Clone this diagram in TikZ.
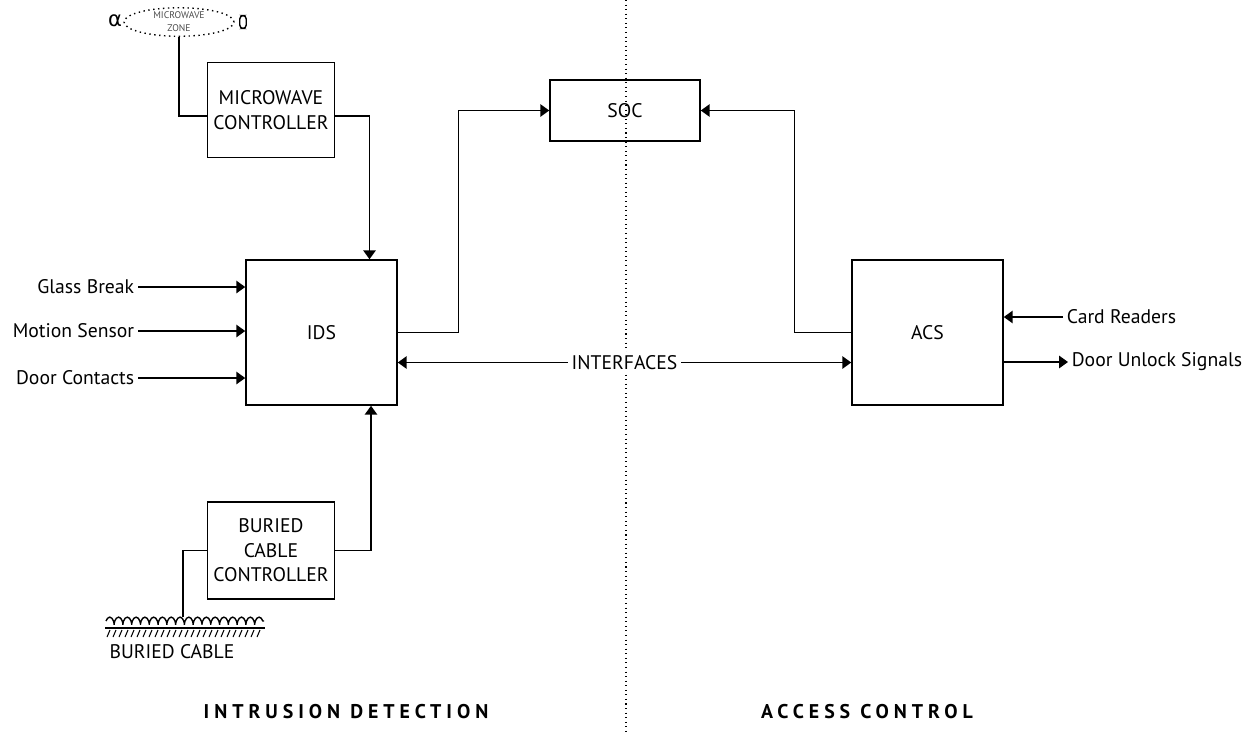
\documentclass[tikz,border=0pt]{standalone}
\usepackage{fontspec}
\setmainfont{PT Sans}
\newfontfamily\headfont[LetterSpace=25]{PT Sans}
\newfontfamily\symfont{DejaVu Sans}
\usetikzlibrary{arrows.meta,calc,decorations.pathmorphing,shapes.geometric}

\begin{document}
\begin{tikzpicture}[x=0.02cm,y=-0.02cm,
    block/.style={draw,line width=0.9pt,align=center,font=\fontsize{11.2}{14}\selectfont},
    lbl/.style={font=\fontsize{11.2}{13}\selectfont,inner sep=2pt},
    wire/.style={line width=0.8pt},
    sig/.style={wire,-{Triangle[length=5pt,width=7pt]}},
    title/.style={font=\headfont\bfseries\fontsize{11.3}{13}\selectfont}]
        \useasboundingbox (0,0) rectangle (1252,735);
        % Divider
        \draw[dotted,line width=0.6pt] (626,0) -- (626,735);

        % Blocks
        \node[block,minimum width=2.48cm,minimum height=1.9cm] (mwc) at (271,110) {MICROWAVE\\CONTROLLER};
        \node[block,minimum width=3.02cm,minimum height=2.9cm] (ids) at (321.5,332.5) {IDS};
        \node[block,minimum width=3cm,minimum height=1.22cm] (soc) at (625,110.5) {SOC};
        \node[block,minimum width=3.02cm,minimum height=2.9cm] (acs) at (927.5,332.5) {ACS};
        \node[block,minimum width=2.48cm,minimum height=1.94cm] (bcc) at (271,550.5) {BURIED\\CABLE\\CONTROLLER};

        % Microwave zone
        \node[draw,dotted,line width=0.8pt,ellipse,inner sep=0pt,minimum width=2.2cm,minimum height=0.48cm,
              align=center,text=black!70,font=\fontsize{5.5}{7.5}\selectfont] (zone) at (179,22) {MICROWAVE\\ZONE};
        \node[font=\symfont\fontsize{12}{12}\selectfont,inner sep=0pt] (tx) at (115,21) {α};
        \node[draw,line width=0.8pt,rounded corners=2pt,inner sep=0pt,minimum width=0.13cm,minimum height=0.26cm] (rx) at (243,22) {};
        \draw[wire] (zone.south) |- ($(mwc.west)+(0,6)$);
        \draw[sig] ($(mwc.east)+(0,6)$) -| ($(ids.north)+(48,0)$);

        % Sensor inputs
        \node[lbl,anchor=east] (gb) at (138,287) {Glass Break};
        \node[lbl,anchor=east] (ms) at (138,331) {Motion Sensor};
        \node[lbl,anchor=east] (dc) at (138,378) {Door Contacts};
        \draw[sig] (gb.east) -- (gb.east -| ids.west);
        \draw[sig] (ms.east) -- (ms.east -| ids.west);
        \draw[sig] (dc.east) -- (dc.east -| ids.west);

        % Links to SOC
        \draw[sig] (ids.east) -- ++(61,0) |- (soc.west);
        \draw[sig] (acs.west) -- ++(-57,0) |- (soc.east);
        \draw[wire,{Triangle[length=5pt,width=7pt]}-{Triangle[length=5pt,width=7pt]}]
            ($(ids.east)+(0,30)$) -- node[lbl,fill=white] (intf) {INTERFACES} ($(acs.west)+(0,30)$);

        % ACS signals
        \node[lbl,anchor=west] (card) at (1063,317) {Card Readers};
        \node[lbl,anchor=west] (door) at (1068,362) {Door Unlock Signals};
        \draw[sig] (card.west) -- (card.west -| acs.east);
        \draw[sig] (door.west -| acs.east) -- (door.west);

        % Buried cable
        \coordinate (cable) at (183,617);
        \draw[sig] (bcc.east) -| ($(ids.south)+(49.5,0)$);
        \draw[wire] (bcc.west) -| (cable);
        \draw[line width=0.7pt] (105,628) -- (265,628);
        \foreach \x in {108,114,...,262}
            \draw[line width=0.6pt] ({\x+2},630) -- ({\x-1},637);
        \draw[line width=0.8pt,decorate,decoration={coil,aspect=0.4,segment length=5pt,amplitude=2.2pt}] (106,621) -- (264,621);
        \node[lbl] (cablelbl) at (172,652) {BURIED CABLE};

        % Section titles
        \node[title] (idtitle) at (346,712) {INTRUSION DETECTION};
        \node[title] (actitle) at (867,712) {ACCESS CONTROL};
    \end{tikzpicture}
\end{document}
